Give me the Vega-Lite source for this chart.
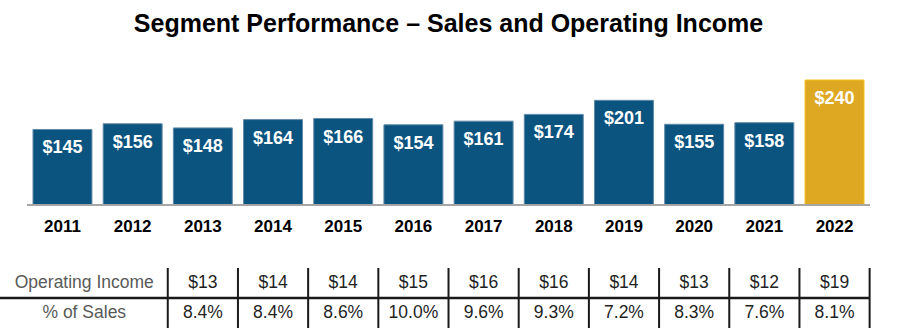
{
  "$schema": "https://vega.github.io/schema/vega-lite/v6.json",
  "width": 897,
  "height": 125,
  "autosize": {"type": "none"},
  "padding": {"top": 80, "bottom": 129, "left": 0, "right": 0},
  "background": "white",
  "config": {"view": {"stroke": null}, "font": "Liberation Sans"},
  "title": {
    "text": "Segment Performance – Sales and Operating Income",
    "font": "Liberation Sans",
    "fontSize": 25,
    "fontWeight": "bold",
    "color": "#000000",
    "anchor": "middle",
    "offset": 43
  },
  "datasets": {
    "sales": [
      {"year": "2011", "sales": 145},
      {"year": "2012", "sales": 156},
      {"year": "2013", "sales": 148},
      {"year": "2014", "sales": 164},
      {"year": "2015", "sales": 166},
      {"year": "2016", "sales": 154},
      {"year": "2017", "sales": 161},
      {"year": "2018", "sales": 174},
      {"year": "2019", "sales": 201},
      {"year": "2020", "sales": 155},
      {"year": "2021", "sales": 158},
      {"year": "2022", "sales": 240}
    ],
    "table": [
      {"year": "2013", "op": 13, "pct": 0.084},
      {"year": "2014", "op": 14, "pct": 0.084},
      {"year": "2015", "op": 14, "pct": 0.086},
      {"year": "2016", "op": 15, "pct": 0.100},
      {"year": "2017", "op": 16, "pct": 0.096},
      {"year": "2018", "op": 16, "pct": 0.093},
      {"year": "2019", "op": 14, "pct": 0.072},
      {"year": "2020", "op": 13, "pct": 0.083},
      {"year": "2021", "op": 12, "pct": 0.076},
      {"year": "2022", "op": 19, "pct": 0.081}
    ],
    "rows": [
      {"row": "Operating Income"},
      {"row": "% of Sales"}
    ]
  },
  "resolve": {"scale": {"y": "independent"}},
  "layer": [
    {
      "data": {"name": "sales"},
      "layer": [
        {
          "mark": {"type": "bar", "strokeWidth": 1},
          "encoding": {
            "x": {
              "field": "year",
              "type": "ordinal",
              "scale": {"paddingInner": 0.16, "paddingOuter": 0.47},
              "axis": {
                "title": null,
                "domain": false,
                "ticks": false,
                "tickSize": 0,
                "grid": false,
                "labelAngle": 0,
                "labelFont": "Liberation Sans",
                "labelFontSize": 17,
                "labelFontWeight": "bold",
                "labelColor": "#000000",
                "labelPadding": 13
              }
            },
            "y": {
              "field": "sales",
              "type": "quantitative",
              "scale": {"domain": [0, 240], "nice": false},
              "axis": null
            },
            "color": {
              "condition": {"test": "datum.year === '2022'", "value": "#DEA823"},
              "value": "#0B5480"
            },
            "stroke": {
              "condition": {"test": "datum.year === '2022'", "value": "#F3C21A"},
              "value": "#6289A8"
            }
          }
        },
        {
          "mark": {"type": "text", "color": "#FFFFFF", "fontWeight": "bold", "fontSize": 18, "dy": 19, "baseline": "middle"},
          "encoding": {
            "x": {"field": "year", "type": "ordinal"},
            "y": {"field": "sales", "type": "quantitative"},
            "text": {"field": "sales", "format": "$d"}
          }
        },
        {
          "mark": {"type": "rule", "color": "#A6A6A6", "strokeWidth": 2},
          "encoding": {
            "x": {"datum": "2011", "type": "ordinal", "bandPosition": -0.095},
            "x2": {"datum": "2022", "bandPosition": 1.095},
            "y": {"datum": 0, "type": "quantitative"}
          }
        }
      ]
    },
    {
      "layer": [
        {
          "data": {"name": "rows"},
          "mark": {"type": "text", "fontSize": 17.5, "color": "#595959", "baseline": "middle"},
          "encoding": {
            "x": {"datum": "2011", "type": "ordinal", "bandPosition": 0.87},
            "y": {
              "field": "row",
              "type": "nominal",
              "sort": null,
              "scale": {"domain": ["Operating Income", "% of Sales"], "range": [188, 248], "paddingInner": 0, "paddingOuter": 0},
              "axis": null
            },
            "text": {"field": "row"}
          }
        },
        {
          "data": {"name": "table"},
          "mark": {"type": "text", "fontSize": 17.5, "color": "#1F1F1F", "baseline": "middle"},
          "encoding": {
            "x": {"field": "year", "type": "ordinal"},
            "y": {"datum": "Operating Income", "type": "nominal"},
            "text": {"field": "op", "format": "$d"}
          }
        },
        {
          "data": {"name": "table"},
          "mark": {"type": "text", "fontSize": 17.5, "color": "#1F1F1F", "baseline": "middle"},
          "encoding": {
            "x": {"field": "year", "type": "ordinal"},
            "y": {"datum": "% of Sales", "type": "nominal"},
            "text": {"field": "pct", "format": ".1%"}
          }
        },
        {
          "data": {"name": "table"},
          "transform": [{"filter": "datum.year === '2022'"}],
          "mark": {"type": "rule", "color": "#1A1A1A", "strokeWidth": 2.5},
          "encoding": {
            "x": {"datum": "2011", "type": "ordinal", "bandPosition": -0.56},
            "x2": {"datum": "2022", "bandPosition": 1.085},
            "y": {"datum": "% of Sales", "type": "nominal", "bandPosition": 0}
          }
        },
        {
          "data": {"name": "table"},
          "mark": {"type": "rule", "color": "#1A1A1A", "strokeWidth": 2},
          "encoding": {
            "x": {"field": "year", "type": "ordinal", "bandPosition": -0.095},
            "y": {"datum": "Operating Income", "type": "nominal", "bandPosition": 0},
            "y2": {"datum": "% of Sales", "bandPosition": 1}
          }
        },
        {
          "data": {"name": "table"},
          "transform": [{"filter": "datum.year === '2022'"}],
          "mark": {"type": "rule", "color": "#1A1A1A", "strokeWidth": 2},
          "encoding": {
            "x": {"field": "year", "type": "ordinal", "bandPosition": 1.095},
            "y": {"datum": "Operating Income", "type": "nominal", "bandPosition": 0},
            "y2": {"datum": "% of Sales", "bandPosition": 1}
          }
        }
      ]
    }
  ]
}
